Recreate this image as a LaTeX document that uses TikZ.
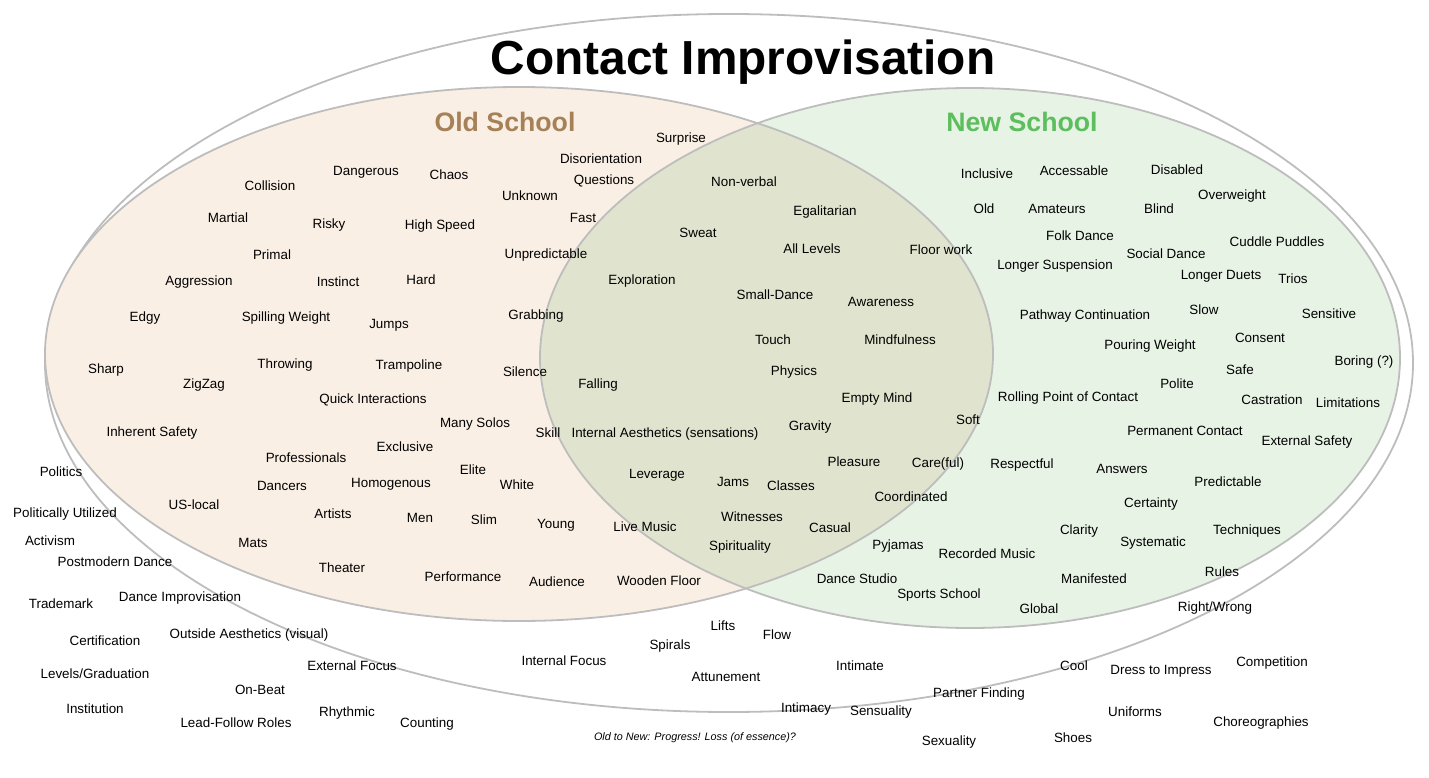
\documentclass[tikz,border=0pt]{standalone}
\usepackage{fontspec}
\setmainfont{Liberation Sans}

\definecolor{oldfill}{HTML}{FAEFE4}
\definecolor{newfill}{HTML}{E7F3E5}
\definecolor{bothfill}{HTML}{E0E4CE}
\definecolor{rim}{HTML}{BDBDBD}
\definecolor{oldhead}{HTML}{A68158}
\definecolor{newhead}{HTML}{5DBE5E}

\begin{document}
\begin{tikzpicture}[
  x=1pt, y=-1pt,
  word/.style={font=\fontsize{13.4}{16}\selectfont, inner sep=0pt, yshift=-1pt},
  head/.style={font=\fontsize{26.7}{30}\selectfont\bfseries, inner sep=0pt},
  maintitle/.style={font=\fontsize{47.8}{52}\selectfont\bfseries, inner sep=0pt, anchor=base},
  note/.style={font=\fontsize{10.8}{13}\selectfont\itshape, inner sep=0pt, anchor=base},
  rimline/.style={draw=rim, line width=1.8pt}
]
  \useasboundingbox (0,0) rectangle (1429,778);

  % Outer ring: the whole practice
  \draw[rimline] (729,363) ellipse [x radius=684, y radius=349];

  % Old and new school fields
  \fill[oldfill] (519,354) ellipse [x radius=474, y radius=267];
  \fill[newfill] (970,358) ellipse [x radius=430, y radius=270];
  \begin{scope}
    \clip (519,354) ellipse [x radius=474, y radius=267];
    \fill[bothfill] (970,358) ellipse [x radius=430, y radius=270];
  \end{scope}
  \draw[rimline] (519,354) ellipse [x radius=474, y radius=267];
  \draw[rimline] (970,358) ellipse [x radius=430, y radius=270];

  % Headings
  \node[maintitle] (title) at (743,75) {Contact Improvisation};
  \node[head, text=oldhead] (oldlabel) at (505,122) {Old School};
  \node[head, text=newhead] (newlabel) at (1022,122) {New School};

  % Old school words
  \foreach \x/\y/\t [count=\i] in {
    681/138/Surprise, 601/158/Disorientation, 604/180/Questions,
    530/195/Unknown, 270/185/Collision, 366/171/Dangerous, 449/174/Chaos,
    228/217/Martial, 329/224/Risky, 440/225/High Speed, 583/217/Fast,
    272/254/Primal, 546/254/Unpredictable, 199/281/Aggression,
    338/281/Instinct, 421/279/Hard, 145/317/Edgy, 286/317/Spilling Weight,
    389/324/Jumps, 536/315/Grabbing, 106/369/Sharp, 204/384/ZigZag,
    285/364/Throwing, 409/365/Trampoline, 525/371/Silence,
    373/399/Quick Interactions, 152/432/Inherent Safety, 475/423/Many Solos,
    548/432/Skill, 405/446/Exclusive, 306/457/Professionals, 473/469/Elite,
    282/485/Dancers, 391/483/Homogenous, 517/484/White, 194/504/US-local,
    333/513/Artists, 420/517/Men, 484/519/Slim, 556/524/Young, 253/542/Mats,
    342/567/Theater, 463/576/Performance, 557/581/Audience}
    \node[word] (old\i) at (\x,\y) {\t};

  % Shared words
  \foreach \x/\y/\t [count=\i] in {
    744/181/Non-verbal, 825/211/Egalitarian, 698/232/Sweat,
    812/248/All Levels, 642/280/Exploration, 775/294/Small-Dance,
    881/301/Awareness, 773/339/Touch, 900/339/Mindfulness, 598/384/Falling,
    794/371/Physics, 877/398/Empty Mind,
    665/433/Internal Aesthetics (sensations), 810/426/Gravity,
    854/461/Pleasure, 657/474/Leverage, 733/481/Jams, 791/485/Classes,
    645/526/Live Music, 752/516/Witnesses, 830/527/Casual,
    740/546/Spirituality, 659/580/Wooden Floor, 941/249/Floor work,
    938/463/Care(ful), 968/419/Soft, 911/496/Coordinated}
    \node[word] (both\i) at (\x,\y) {\t};

  % New school words
  \foreach \x/\y/\t [count=\i] in {
    987/173/Inclusive, 1074/170/Accessable, 1177/169/Disabled,
    1232/195/Overweight, 984/208/Old, 1057/208/Amateurs, 1159/208/Blind,
    1080/235/Folk Dance, 1277/241/Cuddle Puddles, 1166/253/Social Dance,
    1055/265/Longer Suspension, 1221/275/Longer Duets, 1293/278/Trios,
    1085/315/Pathway Continuation, 1204/309/Slow, 1329/313/Sensitive,
    1260/337/Consent, 1150/345/Pouring Weight, 1364/361/Boring (?),
    1240/369/Safe, 1177/383/Polite, 1068/397/Rolling Point of Contact,
    1272/399/Castration, 1348/402/Limitations, 1185/430/Permanent Contact,
    1307/441/External Safety, 1022/464/Respectful, 1122/468/Answers,
    1228/481/Predictable, 1151/503/Certainty, 1079/530/Clarity,
    1153/542/Systematic, 1247/530/Techniques, 898/545/Pyjamas,
    987/553/Recorded Music, 857/578/Dance Studio, 939/594/Sports School,
    1094/578/Manifested, 1222/571/Rules, 1039/608/Global,
    1215/607/{Right/Wrong}}
    \node[word] (new\i) at (\x,\y) {\t};

  % Words on the outer ring and beyond
  \foreach \x/\y/\t [count=\i] in {
    61/471/Politics, 65/513/Politically Utilized, 50/540/Activism,
    115/561/Postmodern Dance, 61/603/Trademark, 180/597/Dance Improvisation,
    105/640/Certification, 249/634/Outside Aesthetics (visual),
    95/673/{Levels/Graduation}, 352/665/External Focus, 260/689/On-Beat,
    95/708/Institution, 236/722/Lead-Follow Roles, 347/712/Rhythmic,
    427/723/Counting, 564/660/Internal Focus, 670/645/Spirals,
    723/625/Lifts, 777/634/Flow, 726/676/Attunement, 860/665/Intimate,
    806/708/Intimacy, 881/711/Sensuality, 979/693/Partner Finding,
    949/741/Sexuality, 1074/665/Cool, 1161/670/Dress to Impress,
    1272/662/Competition, 1135/711/Uniforms, 1073/737/Shoes,
    1261/722/Choreographies}
    \node[word] (out\i) at (\x,\y) {\t};

  \node[note] (footnote) at (695,740) {Old to New: Progress! Loss (of essence)?};
\end{tikzpicture}
\end{document}
